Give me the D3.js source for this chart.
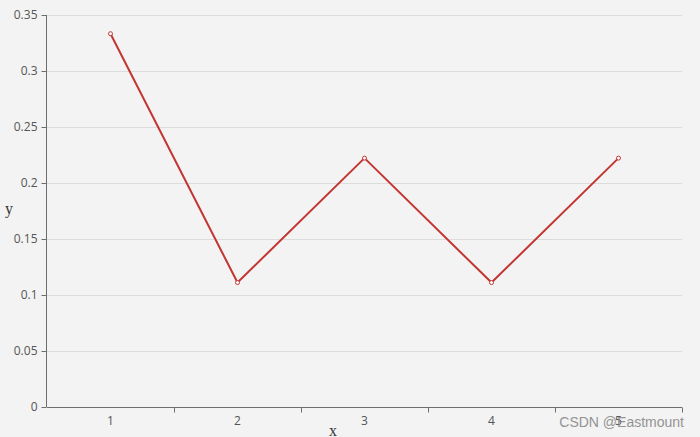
<!DOCTYPE html>
<html><head><meta charset="utf-8">
<script src="https://cdn.jsdelivr.net/npm/d3@7/dist/d3.min.js"></script>
<style>body{margin:0;background:#f3f3f3;}svg{display:block;}</style>
</head><body><svg id="c" width="700" height="437"></svg>
<script>
const categories = ["1", "2", "3", "4", "5"];
const values = [0.3333, 0.1111, 0.2222, 0.1111, 0.2222];
const yTicks = [0, 0.05, 0.1, 0.15, 0.2, 0.25, 0.3, 0.35];

const svg = d3.select("#c");
const W = 700, H = 437;
const m = {left: 47, right: 18, top: 15, bottom: 30};
svg.append("rect").attr("width", W).attr("height", H).attr("fill", "#f3f3f3");

const x = d3.scaleBand().domain(categories).range([m.left, W - m.right]);
const y = d3.scaleLinear().domain([0, 0.35]).range([H - m.bottom, m.top]);

// gridlines
svg.append("g").selectAll("line").data(yTicks.filter(d => d > 0)).join("line")
  .attr("x1", m.left).attr("x2", W - m.right)
  .attr("y1", d => Math.round(y(d)) + 0.5).attr("y2", d => Math.round(y(d)) + 0.5)
  .attr("stroke", "#dcdcdc").attr("stroke-width", 1);

const font = "'Open Sans', 'Noto Sans', sans-serif";

// y axis
const yAxis = svg.append("g").attr("transform", `translate(${m.left - 0.5},0)`)
  .call(d3.axisLeft(y).tickValues(yTicks).tickFormat(d => d3.format("")(+d.toFixed(2))).tickSize(5).tickPadding(4));
yAxis.selectAll("path, line").attr("stroke", "#6e6e6e");
yAxis.select("path").attr("d", `M0,${y(0.35)}V${y(0)}`);
yAxis.selectAll("text").attr("fill", "#555").style("font-family", font).style("font-size", "12px");

// x axis
const xAxis = svg.append("g").attr("transform", `translate(0,${Math.round(y(0)) + 0.5})`)
  .call(d3.axisBottom(x).tickSize(0).tickPadding(9));
xAxis.select("path").attr("stroke", "#6e6e6e").attr("d", `M${m.left},0H${W - m.right}`);
xAxis.selectAll("text").attr("fill", "#555").style("font-family", font).style("font-size", "12px");
const bounds = categories.map(c => x(c)).concat([x(categories[categories.length - 1]) + x.bandwidth()]);
xAxis.selectAll(".bt").data(bounds.slice(1)).join("line").attr("class", "bt")
  .attr("x1", d => Math.round(d) + 0.5).attr("x2", d => Math.round(d) + 0.5)
  .attr("y1", 0).attr("y2", 5).attr("stroke", "#6e6e6e");

// axis names
svg.append("text").attr("x", 9).attr("y", 214).attr("text-anchor", "middle")
  .style("font-family", "'Liberation Serif', serif").style("font-size", "16px").attr("fill", "#333").text("y");
svg.append("text").attr("x", 333).attr("y", 436).attr("text-anchor", "middle")
  .style("font-family", "'Liberation Serif', serif").style("font-size", "16px").attr("fill", "#333").text("x");

// line
const cx = d => x(d) + x.bandwidth() / 2;
const data = categories.map((c, i) => ({c, v: values[i]}));
svg.append("path").datum(data)
  .attr("d", d3.line().x(d => cx(d.c)).y(d => y(d.v)))
  .attr("fill", "none").attr("stroke", "#c23531").attr("stroke-width", 2).attr("stroke-linejoin", "round");
svg.append("g").selectAll("circle").data(data).join("circle")
  .attr("cx", d => cx(d.c)).attr("cy", d => y(d.v)).attr("r", 2)
  .attr("fill", "#fff").attr("stroke", "#c23531").attr("stroke-width", 1);

// watermark
svg.append("text").attr("x", 684).attr("y", 427).attr("text-anchor", "end")
  .style("font-family", "'Liberation Sans', Arial, sans-serif").style("font-size", "14px")
  .attr("fill", "#8a8a8a").attr("opacity", 0.9).text("CSDN @Eastmount");
</script></body></html>
